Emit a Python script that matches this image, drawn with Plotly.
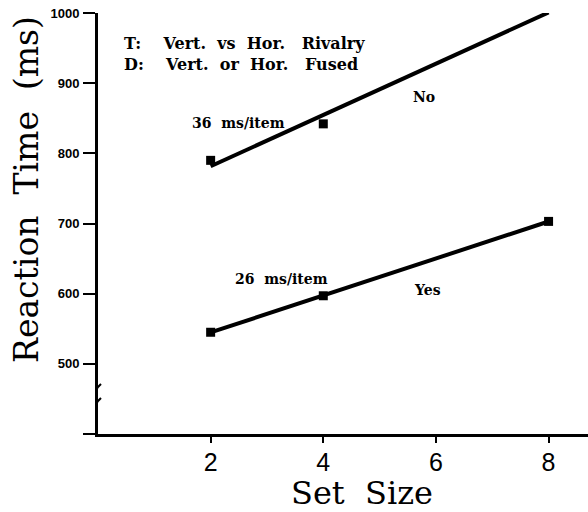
import numpy as np
import plotly.graph_objects as go

set_size = [2, 4, 8]
rt_no = [790, 842, 1005]
rt_yes = [545, 597, 703]
x_ticks = [2, 4, 6, 8]
y_ticks = [400, 500, 600, 700, 800, 900, 1000]
y_tick_labels = ["", "500", "600", "700", "800", "900", "1000"]

fig = go.Figure()

xs = np.array(set_size, dtype=float)
for ys in (rt_no, rt_yes):
    m, b = np.polyfit(xs, np.array(ys, dtype=float), 1)
    fx = np.array([2.0, 8.0])
    fig.add_trace(go.Scatter(x=fx, y=m * fx + b, mode="lines",
                             line=dict(color="black", width=4),
                             showlegend=False, cliponaxis=False, hoverinfo="skip"))
    fig.add_trace(go.Scatter(x=set_size, y=ys, mode="markers",
                             marker=dict(symbol="square", size=9, color="black"),
                             showlegend=False, cliponaxis=False))

ann_font = dict(family="DejaVu Serif", size=16, color="black", weight="bold")
small_font = dict(family="DejaVu Serif", size=14, color="black", weight="bold")
annotations = [
    dict(x=0.42, y=941.5,
         text="T:    Vert.  vs  Hor.   Rivalry<br>D:    Vert.  or  Hor.   Fused",
         font=ann_font),
    dict(x=1.63, y=843, text="36  ms/item", font=small_font),
    dict(x=2.40, y=621, text="26  ms/item", font=small_font),
    dict(x=5.56, y=880, text="No", font=small_font),
    dict(x=5.58, y=605, text="Yes", font=small_font),
]
for a in annotations:
    fig.add_annotation(xref="x", yref="y", xanchor="left", yanchor="middle",
                       align="left", showarrow=False, **a)

fig.add_annotation(xref="paper", yref="paper", x=-0.145, y=0.582,
                   text="Reaction  Time  (ms)", textangle=-90, showarrow=False,
                   font=dict(family="DejaVu Serif", size=33, color="black"),
                   xanchor="center", yanchor="middle")
fig.add_annotation(xref="paper", yref="paper", x=0.539, y=-0.14,
                   text="Set  Size", showarrow=False,
                   font=dict(family="DejaVu Serif", size=32, color="black"),
                   xanchor="center", yanchor="middle")

# axis break symbol
fig.add_shape(type="rect", xref="x", yref="y", xsizemode="pixel", xanchor=0,
              x0=-4, x1=4, y0=445.6, y1=465.6, fillcolor="white",
              line=dict(width=0), layer="above")
for y0, y1 in ((458.4, 471.3), (438.5, 451.3)):
    fig.add_shape(type="line", xref="x", yref="y", xsizemode="pixel", xanchor=0,
                  x0=-6, x1=3, y0=y0, y1=y1, line=dict(color="black", width=2),
                  layer="above")

fig.update_layout(
    width=588, height=512,
    margin=dict(l=98, r=0, t=13, b=78),
    paper_bgcolor="white", plot_bgcolor="white",
    xaxis=dict(range=[0, 8.7], tickvals=x_ticks, showgrid=False, zeroline=False,
               showline=True, linecolor="black", linewidth=3,
               ticks="outside", ticklen=6, tickwidth=1.5, tickcolor="black",
               tickfont=dict(family="Liberation Sans", size=25, color="black"),
               ticklabelstandoff=-2),
    yaxis=dict(range=[400, 1000], tickvals=y_ticks, ticktext=y_tick_labels,
               showgrid=False, zeroline=False,
               showline=True, linecolor="black", linewidth=3,
               ticks="outside", ticklen=12, tickwidth=1.5, tickcolor="black",
               tickfont=dict(family="Liberation Sans", size=13, color="black", weight="bold"),
               ticklabelstandoff=1),
)

fig.write_html("out.html", config={"displayModeBar": False},
               post_script="document.body.style.margin='0';document.body.style.overflow='hidden';")
